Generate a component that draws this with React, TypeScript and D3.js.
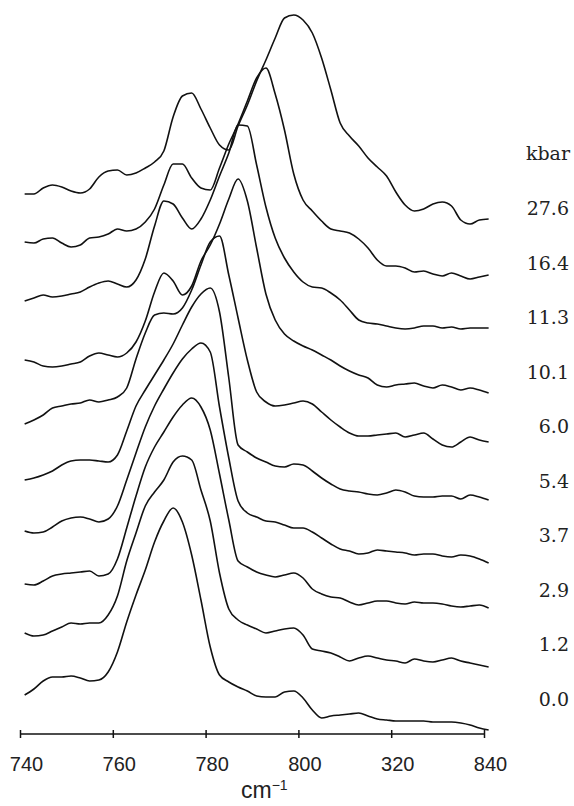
import React, { useRef, useEffect } from 'react';
import * as d3 from 'd3';

// wavenumber grid (cm-1) shared by all spectra
const wavenumbers = [
  741, 743, 745, 747, 749, 751, 753, 755, 757, 759,
  761, 763, 765, 767, 769, 771, 773, 775, 777, 779,
  781, 783, 785, 787, 789, 791, 793, 795, 797, 799,
  801, 803, 805, 807, 809, 811, 813, 815, 817, 819,
  821, 823, 825, 827, 829, 831, 833, 835, 837, 839,
  841,
];

const pressures = ['27.6', '16.4', '11.3', '10.1', '6.0', '5.4', '3.7', '2.9', '1.2', '0.0'];

// stacked intensities (arbitrary units, offset included)
const s27_6 = [
  540, 540, 546, 549, 547, 543, 541, 545, 557, 563,
  564, 559, 561, 566, 572, 583, 617, 638, 641, 625,
  606, 589, 584, 608, 629, 653, 674, 696, 716, 719,
  714, 701, 676, 644, 611, 598, 588, 576, 567, 558,
  542, 529, 523, 525, 530, 532, 528, 514, 510, 514,
  515,
];
const s16_4 = [
  492, 491, 495, 496, 491, 487, 489, 496, 497, 500,
  505, 503, 505, 512, 525, 549, 570, 570, 556, 546,
  544, 566, 590, 610, 633, 656, 666, 640, 604, 560,
  534, 523, 513, 505, 503, 501, 495, 486, 474, 468,
  468, 466, 462, 463, 460, 458, 461, 458, 455, 457,
  459,
];
const s11_3 = [
  433, 436, 439, 437, 438, 440, 442, 447, 451, 453,
  450, 447, 454, 475, 508, 533, 530, 516, 505, 515,
  534, 558, 581, 609, 608, 569, 527, 496, 476, 462,
  452, 447, 446, 441, 434, 424, 414, 411, 410, 408,
  406, 405, 406, 408, 408, 406, 407, 405, 406, 406,
  406,
];
const s10_1 = [
  374, 372, 368, 367, 368, 370, 372, 378, 381, 379,
  377, 381, 392, 413, 442, 461, 453, 439, 448, 473,
  489, 510, 535, 555, 533, 486, 440, 414, 400, 393,
  388, 384, 379, 374, 368, 363, 359, 356, 349, 347,
  349, 350, 351, 348, 346, 349, 347, 344, 346, 344,
  341,
];
const s6_0 = [
  310, 314, 319, 326, 328, 330, 331, 334, 332, 334,
  337, 346, 375, 401, 419, 421, 420, 426, 444, 469,
  492, 498, 459, 416, 374, 342, 332, 328, 329, 331,
  333, 330, 322, 314, 307, 301, 298, 298, 299, 300,
  301, 297, 299, 301, 295, 289, 287, 292, 297, 294,
  292,
];
const s5_4 = [
  254, 256, 259, 263, 269, 273, 274, 274, 273, 272,
  279, 303, 328, 344, 359, 374, 390, 409, 427, 440,
  446, 422, 356, 289, 282, 276, 272, 268, 267, 270,
  269, 263, 256, 250, 245, 243, 242, 240, 239, 241,
  244, 242, 238, 237, 237, 238, 238, 235, 239, 237,
  234,
];
const s3_7 = [
  203, 201, 202, 207, 213, 216, 217, 215, 212, 215,
  228, 254, 281, 307, 328, 345, 361, 375, 385, 391,
  382, 327, 276, 233, 221, 217, 213, 212, 209, 206,
  206, 202, 196, 190, 185, 183, 180, 181, 184, 183,
  182, 181, 179, 180, 180, 178, 177, 179, 178, 175,
  171,
];
const s2_9 = [
  150, 149, 153, 158, 160, 161, 162, 163, 158, 160,
  175, 206, 238, 267, 287, 302, 317, 329, 336, 327,
  304, 260, 214, 173, 167, 162, 159, 157, 159, 161,
  156, 145, 140, 137, 136, 132, 129, 131, 133, 133,
  131, 130, 132, 131, 131, 130, 128, 127, 128, 129,
  126,
];
const s1_2 = [
  101, 98, 99, 103, 107, 111, 110, 111, 111, 119,
  138, 173, 201, 228, 242, 254, 272, 278, 274, 244,
  213, 161, 125, 114, 109, 105, 101, 103, 105, 106,
  99, 85, 83, 81, 77, 73, 76, 78, 76, 74,
  73, 71, 75, 73, 72, 74, 76, 73, 71, 69,
  67,
];
const s0_0 = [
  39, 45, 53, 57, 57, 58, 56, 53, 54, 62,
  82, 112, 139, 164, 192, 213, 226, 212, 179, 134,
  87, 59, 52, 47, 43, 38, 37, 37, 42, 43,
  36, 24, 16, 18, 19, 20, 21, 18, 15, 14,
  13, 13, 13, 13, 12, 12, 12, 11, 9, 6,
  4,
];

const spectra = [s27_6, s16_4, s11_3, s10_1, s6_0, s5_4, s3_7, s2_9, s1_2, s0_0];

const tickValues = [740, 760, 780, 800, 820, 840];
const tickLabels = ['740', '760', '780', '800', '320', '840'];

const W = 574;
const H = 806;

const App = () => {
  const ref = useRef<SVGSVGElement>(null);

  useEffect(() => {
    const x = d3.scaleLinear().domain([740, 840]).range([20, 484]);
    const y = d3.scaleLinear().domain([0, 720]).range([734, 14]);

    const svg = d3.select(ref.current);
    svg.selectAll('*').remove();

    const line = d3.line<number>()
      .x((d, i) => x(wavenumbers[i]))
      .y(d => y(d))
      .curve(d3.curveMonotoneX);

    svg.append('g')
      .selectAll('path')
      .data(spectra)
      .join('path')
      .attr('d', d => line(d))
      .attr('fill', 'none')
      .attr('stroke', '#111')
      .attr('stroke-width', 1.6)
      .attr('stroke-linejoin', 'round');

    // bottom axis
    const axis = svg.append('g')
      .attr('transform', `translate(0,${y(0)})`)
      .call(d3.axisBottom(x)
        .tickValues(tickValues)
        .tickFormat((d, i) => tickLabels[i])
        .tickSize(4)
        .tickPadding(0));
    axis.select('.domain').attr('d', `M${x(740)},0H${x(840)}`)
      .attr('stroke', '#111').attr('stroke-width', 1.5);
    axis.selectAll('.tick line').attr('y1', -4).attr('y2', 4)
      .attr('stroke', '#111').attr('stroke-width', 1.5);
    axis.selectAll('.tick text')
      .attr('x', 6)
      .attr('y', 37)
      .attr('dy', null)
      .attr('fill', '#222')
      .attr('font-family', 'Liberation Sans, Arial, sans-serif')
      .attr('font-size', 20);

    // axis title
    const title = svg.append('text')
      .attr('x', 241)
      .attr('y', 798)
      .attr('font-family', 'Liberation Sans, Arial, sans-serif')
      .attr('font-size', 23)
      .attr('fill', '#222');
    title.append('tspan').text('cm');
    title.append('tspan').attr('dy', -8).attr('font-size', 14).text('−1');

    // pressure labels
    const labels = svg.append('g')
      .attr('font-family', 'DejaVu Serif, serif')
      .attr('font-size', 19)
      .attr('fill', '#222')
      .attr('text-anchor', 'end');
    labels.append('text').attr('x', 570).attr('y', 160).text('kbar');
    labels.selectAll('text.p')
      .data(pressures)
      .join('text')
      .attr('class', 'p')
      .attr('x', 569)
      .attr('y', (d, i) => 215 + i * 54.5)
      .text(d => d);
  }, []);

  return (
    <svg
      ref={ref}
      width={W}
      height={H}
      viewBox={`0 0 ${W} ${H}`}
      style={{ position: 'absolute', left: 0, top: 0, background: '#fff' }}
    />
  );
};

export default App;
